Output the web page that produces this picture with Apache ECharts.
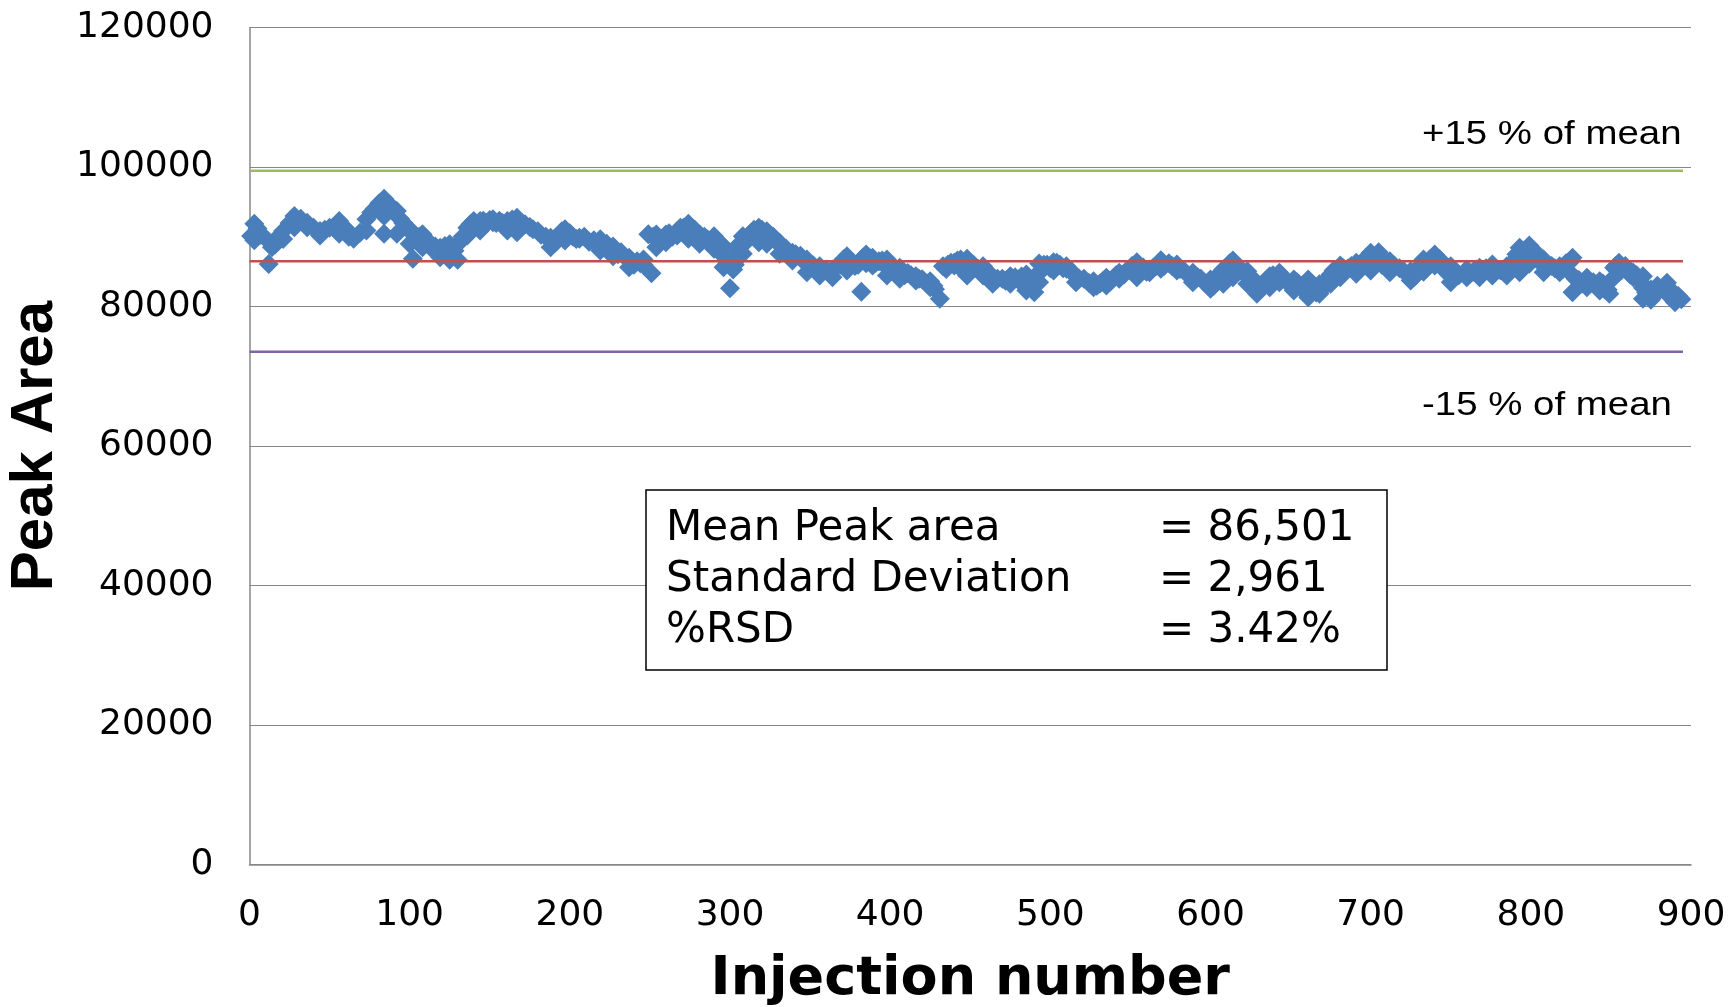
<!DOCTYPE html>
<html><head><meta charset="utf-8">
<script src="https://cdn.jsdelivr.net/npm/echarts@6/dist/echarts.min.js"></script>
<style>html,body{margin:0;padding:0;background:#fff}#c{width:1731px;height:1007px}</style>
</head><body><div id="c"></div>
<script>
const injection = [1,3,3,7,12,16,21,21,28,28,36,36,44,44,50,56,56,65,65,69,73,73,78,84,84,84,88,92,92,96,100,100,102,104,108,108,113,119,119,125,125,130,130,136,136,140,144,144,148,152,152,156,161,161,167,167,172,177,182,188,188,193,197,197,202,206,206,212,219,219,223,227,227,232,237,237,242,246,246,249,251,254,254,257,260,260,264,267,267,271,274,274,278,281,281,286,290,290,293,296,296,296,300,302,302,305,308,308,313,318,318,323,323,327,331,331,335,339,339,344,348,348,352,356,356,360,364,364,369,373,373,378,382,385,385,389,389,393,398,398,398,402,406,406,411,416,416,420,425,425,428,431,433,436,440,440,444,444,448,448,448,452,458,458,461,464,464,470,475,475,480,485,485,490,493,493,493,498,502,502,506,510,510,513,516,516,521,527,527,531,535,535,539,543,543,548,554,554,554,558,562,562,566,569,569,574,579,579,584,589,589,594,600,600,604,608,608,611,614,614,614,618,623,623,626,629,629,633,637,637,640,643,643,647,652,652,656,661,661,661,665,668,668,672,675,675,678,681,681,686,691,691,695,700,700,700,705,708,712,712,718,725,725,729,733,733,737,740,740,745,750,750,750,755,760,760,764,768,768,772,776,776,781,785,785,789,793,793,793,796,799,799,803,808,808,813,818,818,822,826,826,826,830,835,835,839,843,843,846,849,852,855,855,859,864,864,867,870,870,870,875,875,880,885,885,888,890,894];
const peakArea = [90120,91888,89498,90300,86104,88900,90836,89690,92988,91362,92032,91362,90836,90191,91300,92270,90430,89881,89713,90600,92510,90908,94000,95473,93000,90430,94500,93705,90430,92000,91076,89000,86846,89500,90358,88518,88500,88447,87085,88924,86702,88924,86702,91315,90191,92270,92270,90908,92000,92510,92103,92300,92270,90908,92748,90670,91800,91100,90300,89881,88518,90200,91076,89474,90000,89881,89713,89300,89642,88040,89000,88600,87200,87800,86989,85650,86500,86750,86000,90358,84766,90335,88518,89500,90335,89235,90000,90813,90191,91300,91864,89713,91000,90335,88996,89600,90096,88279,88700,88662,87200,85650,82615,87228,85300,88500,90096,87562,90500,91291,89235,90813,89000,90000,89140,87562,88300,87706,86606,87300,86750,84933,85900,85793,84455,85300,85316,84216,86000,87228,85172,85800,82137,87467,86200,86989,85889,86500,86750,85600,84455,85300,85555,83977,84800,84360,83738,83900,83643,82782,82500,81109,85793,86000,86271,85889,86750,85500,86846,85600,84455,86000,85793,84455,85000,83882,83260,84000,84360,83260,83800,84599,82304,82065,86176,84800,83499,86000,86367,85172,86000,85793,85411,85000,84360,83499,84000,83643,82782,83300,84121,83021,84000,84838,83977,85200,86367,85300,84216,85600,85316,84933,85800,86654,85411,86200,86032,85172,85000,84838,83499,84000,83882,82543,83800,85316,83260,85500,86606,85400,84216,85600,85077,83260,83800,83165,81826,83200,84360,82782,84000,84838,83499,83700,83882,82304,82800,83882,82600,81348,82500,83200,81826,83500,84598,83260,85000,85900,84216,85500,86271,84694,86500,87705,86400,85172,87800,86800,86511,84933,85500,85077,83739,85200,86750,85000,86800,87466,85889,86200,85793,84600,83499,84500,85316,84216,85000,85555,84216,85500,86032,84455,85200,85793,84455,86500,88422,86600,84933,88000,88757,86128,87800,86750,84933,85800,85793,84933,86200,86989,84500,82065,83800,84121,82782,83500,83643,82304,82500,81826,85555,86271,84933,85800,84837,84200,84000,84360,82700,81110,82447,80965,82500,83404,81826,82000,80630,81038];
const injectionMore = [5,9,14,18,25,32,40,47,53,60,62,76,81,86,90,94,98,106,111,116,122,128,133,138,146,150,154,158,164,170,175,180,185,191,195,200,204,209,215,221,225,230,235,240,244,252,256,262,269,276,279,284,288,291,298,303,306,311,315,320,325,329,333,337,341,346,350,354,358,362,366,371,375,380,383,387,391,395,400,404,409,413,418,423,427,435,438,442,446,450,455,460,462,467,472,478,482,487,491,496,500,504,508,512,518,524,529,533,537,541,546,551,556,560,564,568,571,576,581,587,592,597,602,606,610,612,616,621,625,628,631,635,639,641,645,649,654,659,663,666,670,673,677,680,683,688,693,697,702,707,710,715,721,727,731,735,739,743,747,752,758,762,766,770,774,778,783,787,791,795,797,801,805,810,815,820,824,828,832,837,841,845,848,851,853,857,862,866,869,872,877,879,883,887,892];
const peakAreaMore = [91200,90000,88500,90000,92000,92600,91300,91000,91500,91200,90000,93500,94800,94500,93800,92600,91300,90000,89500,88600,88700,88000,90000,91800,92300,92400,92000,92000,92500,92000,91400,90800,90000,89200,90800,90500,89700,90000,89500,88500,88300,87500,87000,86000,86200,90000,89800,90500,91300,91300,90000,90000,89500,89000,86500,86000,89000,89500,91000,91000,90300,89300,88500,87500,87500,86500,86000,85300,85000,84800,85600,86800,86500,86000,87000,87000,86300,86600,85800,85000,84500,84500,84000,83300,83000,85400,86300,86600,86000,86300,85400,84800,84200,84000,83700,84200,84300,83000,84500,86000,85500,86300,85500,85300,84000,83400,83000,83700,83500,84500,84600,85800,85500,85000,85500,86000,85800,85800,85400,84300,84200,83300,83000,84800,84500,86200,85800,84700,84300,82600,83000,83800,84500,83800,84300,83300,83500,82500,83300,82000,82600,84000,85200,84800,85500,85800,85700,86800,87000,86000,86200,85800,85000,84200,85900,86200,86500,86800,85000,85000,84800,84700,85300,84800,85300,85300,85000,85400,87500,87400,86700,88000,86500,85800,85500,85400,86300,84000,83300,83300,83000,83300,82400,84000,85800,85300,84600,84500,83400,82000,81600,83000,82700,82500,81500];
const meanPeak = 86501;
const stdDev = 2961;
const rsd = 3.42;
const limitSpan = [0, 895];
const limitLabels = ['+15 % of mean', '-15 % of mean'];
const statLabels = ['Mean Peak area', 'Standard Deviation', '%RSD'];
const statValues = ['= 86,501', '= 2,961', '= 3.42%'];

const upper = Math.round(meanPeak * 1.15);
const lower = Math.round(meanPeak * 0.85);
const pts = injection.map((x, i) => [x, peakArea[i]])
  .concat(injectionMore.map((x, i) => [x, peakAreaMore[i]]));
const hline = v => limitSpan.map(x => [x, v]);

const chart = echarts.init(document.getElementById('c'), null, {renderer: 'canvas'});
const tickFont = {fontFamily: 'DejaVu Sans', fontSize: 36, color: '#000'};
chart.setOption({
  animation: false,
  backgroundColor: '#fff',
  grid: {left: 249.5, right: 40, top: 27.6, bottom: 142.5, containLabel: false, outerBoundsMode: 'none'},
  xAxis: {
    type: 'value', min: 0, max: 900, interval: 100,
    name: 'Injection number', nameLocation: 'middle', nameGap: 88,
    nameTextStyle: {fontFamily: 'DejaVu Sans', fontWeight: 'bold', fontSize: 54, color: '#000'},
    axisLine: {show: true, lineStyle: {color: '#888', width: 1.5}},
    axisTick: {show: false},
    splitLine: {show: false},
    axisLabel: Object.assign({margin: 33, formatter: v => String(v)}, tickFont)
  },
  yAxis: {
    type: 'value', min: 0, max: 120000, interval: 20000,
    name: 'Peak Area', nameLocation: 'middle', nameGap: 180,
    nameTextStyle: {fontFamily: 'Liberation Sans', fontWeight: 'bold', fontSize: 60, color: '#000'},
    axisLine: {show: true, lineStyle: {color: '#888', width: 1.5}},
    axisTick: {show: false},
    splitLine: {show: true, lineStyle: {color: '#878787', width: 1.2}},
    axisLabel: Object.assign({margin: 36, formatter: v => String(v)}, tickFont)
  },
  series: [
    {type: 'line', data: hline(upper), symbol: 'none', lineStyle: {color: '#9BBB59', width: 2.5}, z: 2},
    {type: 'line', data: hline(lower), symbol: 'none', lineStyle: {color: '#8064A2', width: 2.5}, z: 2},
    {type: 'scatter', data: pts, symbol: 'diamond', symbolSize: 20,
      itemStyle: {color: '#4A7EBB', opacity: 1}, z: 3},
    {type: 'line', data: hline(meanPeak), symbol: 'none', lineStyle: {color: '#C0504D', width: 2.5}, z: 4}
  ]
});

const fontAnn = {fontFamily: 'Liberation Sans', fontSize: 34, fill: '#000', verticalAlign: 'middle', align: 'left'};
const boxFont = {fontFamily: 'DejaVu Sans', fontSize: 42, fill: '#000', verticalAlign: 'middle'};
const g = [
  {type: 'text', x: 1422, y: 135, scaleX: 1.13, style: Object.assign({text: limitLabels[0]}, fontAnn)},
  {type: 'text', x: 1422, y: 406, scaleX: 1.13, style: Object.assign({text: limitLabels[1]}, fontAnn)},
  {type: 'rect', shape: {x: 646, y: 490, width: 741, height: 180}, style: {fill: '#fff', stroke: '#000', lineWidth: 1.5}, z: 10}
];
statLabels.forEach((t, i) => {
  g.push({type: 'text', x: 666, y: 529 + i * 50.8, z: 11, style: Object.assign({text: t}, boxFont)});
  g.push({type: 'text', x: 1159, y: 529 + i * 50.8, z: 11, style: Object.assign({text: statValues[i]}, boxFont)});
});
chart.setOption({graphic: g});
</script></body></html>
